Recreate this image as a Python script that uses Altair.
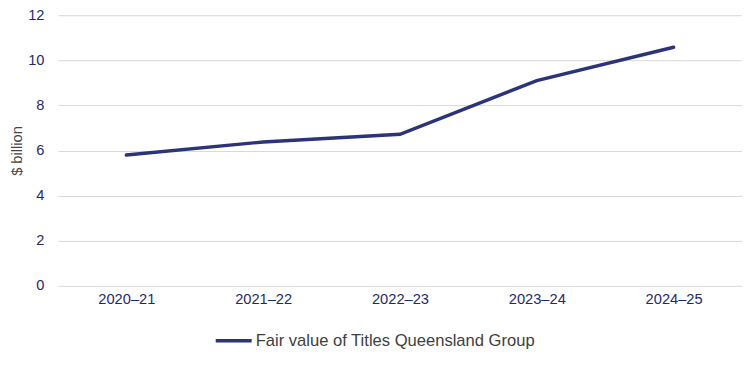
import altair as alt
import pandas as pd

years = ["2020–21", "2021–22", "2022–23", "2023–24", "2024–25"]
values = [5.8, 6.38, 6.72, 9.1, 10.58]
series = "Fair value of Titles Queensland Group"

df = pd.DataFrame({"year": years, "value": values, "series": [series] * len(years)})

navy = "#2B3478"
label_color = "#1F2A6B"
font = "Liberation Sans"

chart = alt.Chart(df).mark_line(strokeWidth=3.4, strokeCap="round").encode(
    x=alt.X("year:N", sort=years, title=None,
            scale=alt.Scale(paddingInner=0, paddingOuter=0.5),
            axis=alt.Axis(labelAngle=0, domain=False, ticks=False, grid=False,
                          labelColor=label_color, labelFont=font,
                          labelFontSize=14.67, labelPadding=6)),
    y=alt.Y("value:Q", title="$ billion",
            scale=alt.Scale(domain=[0, 12], nice=False),
            axis=alt.Axis(values=[0, 2, 4, 6, 8, 10, 12], domain=False, ticks=False,
                          gridColor="#D9D9D9", gridWidth=1,
                          labelColor=label_color, labelFont=font,
                          labelFontSize=14.67, labelPadding=14,
                          titleColor="#444444", titleFont=font,
                          titleFontSize=14.67, titleFontWeight="normal", titlePadding=3)),
    color=alt.Color("series:N", scale=alt.Scale(range=[navy]),
                    legend=alt.Legend(title=None, orient="none", legendX=156, legendY=306,
                                      symbolType="stroke", symbolSize=1296,
                                      symbolStrokeWidth=3.4, labelLimit=0,
                                      labelFont=font, labelFontSize=16.6,
                                      labelColor="#404040", labelOffset=2))
).properties(
    width=685, height=271, autosize="none",
    padding={"left": 50, "top": 7, "right": 0, "bottom": 75}
).configure_view(stroke=None)

chart.save("out.html", embed_options={"renderer": "svg", "actions": False})
